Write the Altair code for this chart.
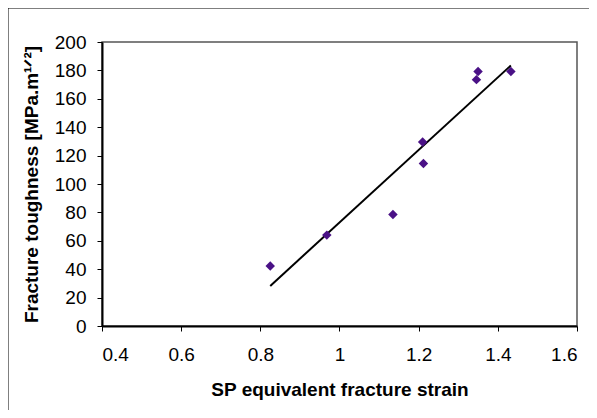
import altair as alt
import pandas as pd

# Data
strain = [0.825, 0.968, 1.135, 1.212, 1.210, 1.346, 1.350, 1.433]
toughness = [42.3, 64.0, 78.6, 114.5, 129.5, 173.5, 179.3, 179.3]
x_ticks = [0.4, 0.6, 0.8, 1.0, 1.2, 1.4, 1.6]
y_ticks = [0, 20, 40, 60, 80, 100, 120, 140, 160, 180, 200]

df = pd.DataFrame({"strain": strain, "toughness": toughness})
one = pd.DataFrame({"k": [0]})

W, H = 475, 284
PAD = {"left": 94, "top": 34, "right": 12, "bottom": 84}
FONT = "Liberation Sans"

x_enc = alt.X(
    "strain:Q",
    scale=alt.Scale(domain=[0.4, 1.6], nice=False, zero=False),
    axis=alt.Axis(values=x_ticks, format="~g", title="SP equivalent fracture strain",
                  labelPadding=14, titlePadding=16, labelOverlap=False),
)
y_enc = alt.Y(
    "toughness:Q",
    scale=alt.Scale(domain=[0, 200], nice=False),
    axis=alt.Axis(values=y_ticks, title="Fracture toughness [MPa.m¹ᐟ²]",
                  labelPadding=11, titlePadding=13, labelOverlap=False),
)

points = alt.Chart(df).mark_point(
    shape="diamond", filled=True, size=90, color="#4a1186", opacity=1
).encode(x=x_enc, y=y_enc)

trend = alt.Chart(df).transform_regression("strain", "toughness").mark_line(
    color="black", strokeWidth=2
).encode(x=x_enc, y=y_enc)

frame_left = alt.Chart(one).mark_rule(color="black", strokeWidth=1).encode(
    x=alt.value(-94), y=alt.value(-34), y2=alt.value(H + 84)
)
frame_top = alt.Chart(one).mark_rule(color="black", strokeWidth=1).encode(
    x=alt.value(-94), x2=alt.value(W + 12), y=alt.value(-34)
)

chart = alt.layer(trend, points, frame_left, frame_top).properties(
    width=W, height=H,
    autosize=alt.AutoSizeParams(type="none"),
    padding=PAD,
).configure_view(
    stroke="#555555", strokeWidth=1.5
).configure_axis(
    grid=False, labelOverlap=False,
    domainColor="black", domainWidth=2,
    tickColor="black", tickSize=5, tickWidth=1,
    labelFont=FONT, labelFontSize=19, labelColor="black",
    titleFont=FONT, titleFontSize=19, titleFontWeight="bold", titleColor="black",
)

chart.save("out.html", embed_options={"renderer": "svg", "actions": False})
